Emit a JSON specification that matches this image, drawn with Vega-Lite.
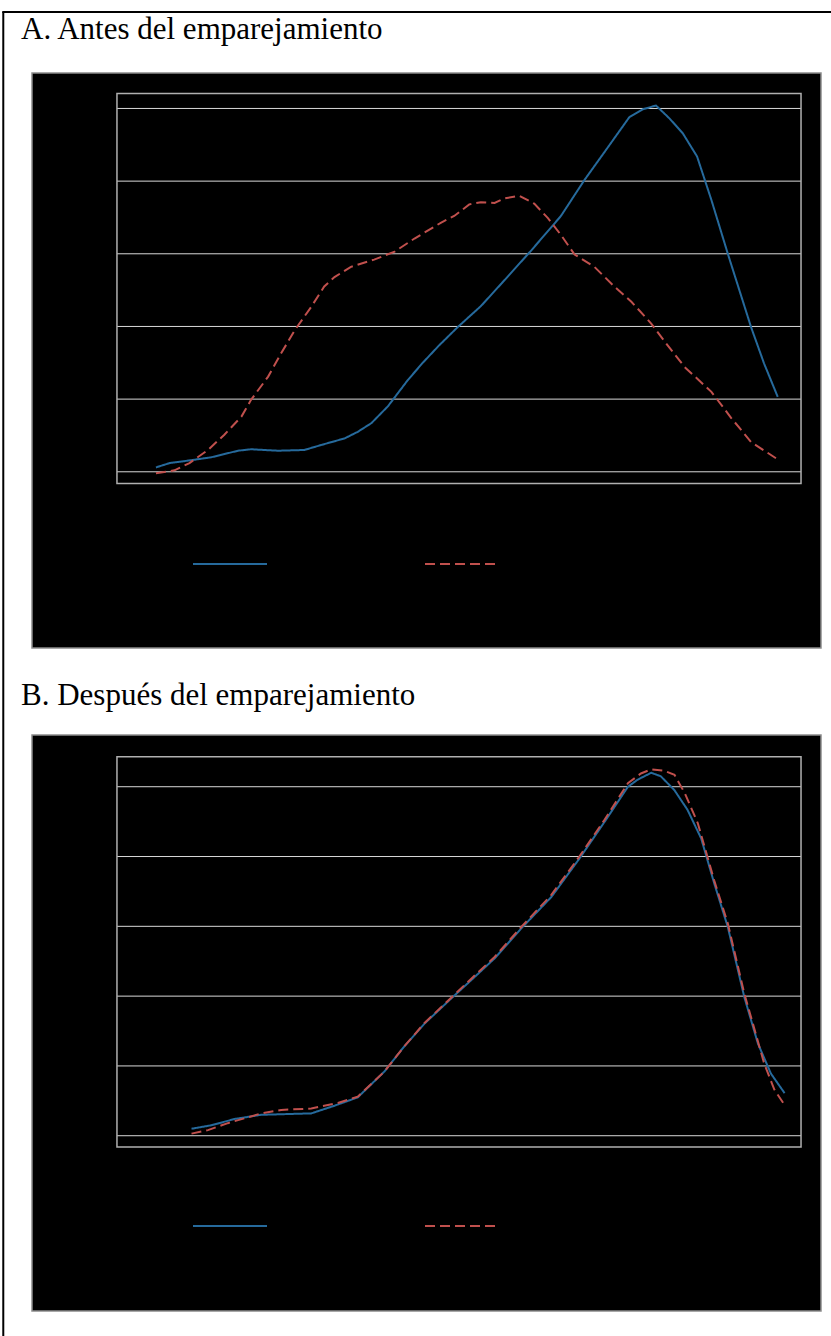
{
  "$schema": "https://vega.github.io/schema/vega-lite/v6.json",
  "background": "white",
  "padding": {"left": 1, "top": 11, "right": 0, "bottom": 0},
  "bounds": "flush",
  "spacing": 0,
  "config": {
    "font": "Liberation Serif",
    "view": {"stroke": null},
    "title": {"font": "Liberation Serif", "fontSize": 31, "fontWeight": "normal", "color": "black", "anchor": "start", "frame": "group", "baseline": "alphabetic", "offset": 27, "dx": -11}
  },
  "datasets": {
    "uno": [{}],
    "grid": [{"v": 0}, {"v": 1}, {"v": 2}, {"v": 3}, {"v": 4}, {"v": 5}],
    "antes": [
      {"g": "Tratados", "x": 0.057, "y": 0.06}, {"g": "Tratados", "x": 0.077, "y": 0.12}, {"g": "Tratados", "x": 0.109, "y": 0.16}, {"g": "Tratados", "x": 0.138, "y": 0.2}, {"g": "Tratados", "x": 0.177, "y": 0.29}, {"g": "Tratados", "x": 0.196, "y": 0.31}, {"g": "Tratados", "x": 0.235, "y": 0.29}, {"g": "Tratados", "x": 0.274, "y": 0.3}, {"g": "Tratados", "x": 0.299, "y": 0.37}, {"g": "Tratados", "x": 0.333, "y": 0.46}, {"g": "Tratados", "x": 0.352, "y": 0.55}, {"g": "Tratados", "x": 0.372, "y": 0.67}, {"g": "Tratados", "x": 0.396, "y": 0.9}, {"g": "Tratados", "x": 0.425, "y": 1.26}, {"g": "Tratados", "x": 0.447, "y": 1.5}, {"g": "Tratados", "x": 0.471, "y": 1.74}, {"g": "Tratados", "x": 0.498, "y": 1.99}, {"g": "Tratados", "x": 0.532, "y": 2.28}, {"g": "Tratados", "x": 0.562, "y": 2.59}, {"g": "Tratados", "x": 0.606, "y": 3.05}, {"g": "Tratados", "x": 0.649, "y": 3.52}, {"g": "Tratados", "x": 0.683, "y": 4.01}, {"g": "Tratados", "x": 0.718, "y": 4.47}, {"g": "Tratados", "x": 0.749, "y": 4.88}, {"g": "Tratados", "x": 0.769, "y": 4.99}, {"g": "Tratados", "x": 0.788, "y": 5.04}, {"g": "Tratados", "x": 0.808, "y": 4.86}, {"g": "Tratados", "x": 0.827, "y": 4.66}, {"g": "Tratados", "x": 0.848, "y": 4.34}, {"g": "Tratados", "x": 0.869, "y": 3.74}, {"g": "Tratados", "x": 0.893, "y": 3.0}, {"g": "Tratados", "x": 0.927, "y": 1.99}, {"g": "Tratados", "x": 0.946, "y": 1.49}, {"g": "Tratados", "x": 0.966, "y": 1.03},
      {"g": "Controles", "x": 0.057, "y": -0.02}, {"g": "Controles", "x": 0.084, "y": 0.02}, {"g": "Controles", "x": 0.106, "y": 0.12}, {"g": "Controles", "x": 0.133, "y": 0.3}, {"g": "Controles", "x": 0.157, "y": 0.51}, {"g": "Controles", "x": 0.182, "y": 0.76}, {"g": "Controles", "x": 0.196, "y": 0.99}, {"g": "Controles", "x": 0.221, "y": 1.31}, {"g": "Controles", "x": 0.24, "y": 1.63}, {"g": "Controles", "x": 0.26, "y": 1.95}, {"g": "Controles", "x": 0.284, "y": 2.27}, {"g": "Controles", "x": 0.303, "y": 2.55}, {"g": "Controles", "x": 0.318, "y": 2.68}, {"g": "Controles", "x": 0.342, "y": 2.82}, {"g": "Controles", "x": 0.376, "y": 2.92}, {"g": "Controles", "x": 0.406, "y": 3.03}, {"g": "Controles", "x": 0.435, "y": 3.21}, {"g": "Controles", "x": 0.474, "y": 3.43}, {"g": "Controles", "x": 0.493, "y": 3.52}, {"g": "Controles", "x": 0.515, "y": 3.68}, {"g": "Controles", "x": 0.532, "y": 3.71}, {"g": "Controles", "x": 0.552, "y": 3.7}, {"g": "Controles", "x": 0.566, "y": 3.76}, {"g": "Controles", "x": 0.588, "y": 3.8}, {"g": "Controles", "x": 0.61, "y": 3.69}, {"g": "Controles", "x": 0.63, "y": 3.49}, {"g": "Controles", "x": 0.649, "y": 3.26}, {"g": "Controles", "x": 0.669, "y": 2.99}, {"g": "Controles", "x": 0.698, "y": 2.82}, {"g": "Controles", "x": 0.727, "y": 2.55}, {"g": "Controles", "x": 0.752, "y": 2.34}, {"g": "Controles", "x": 0.781, "y": 2.04}, {"g": "Controles", "x": 0.805, "y": 1.74}, {"g": "Controles", "x": 0.83, "y": 1.44}, {"g": "Controles", "x": 0.869, "y": 1.1}, {"g": "Controles", "x": 0.898, "y": 0.74}, {"g": "Controles", "x": 0.927, "y": 0.41}, {"g": "Controles", "x": 0.966, "y": 0.17}
    ],
    "despues": [
      {"g": "Tratados", "x": 0.109, "y": 0.1}, {"g": "Tratados", "x": 0.138, "y": 0.15}, {"g": "Tratados", "x": 0.172, "y": 0.24}, {"g": "Tratados", "x": 0.211, "y": 0.3}, {"g": "Tratados", "x": 0.284, "y": 0.32}, {"g": "Tratados", "x": 0.318, "y": 0.43}, {"g": "Tratados", "x": 0.352, "y": 0.55}, {"g": "Tratados", "x": 0.391, "y": 0.92}, {"g": "Tratados", "x": 0.42, "y": 1.28}, {"g": "Tratados", "x": 0.45, "y": 1.61}, {"g": "Tratados", "x": 0.489, "y": 1.97}, {"g": "Tratados", "x": 0.518, "y": 2.23}, {"g": "Tratados", "x": 0.552, "y": 2.54}, {"g": "Tratados", "x": 0.591, "y": 2.97}, {"g": "Tratados", "x": 0.635, "y": 3.42}, {"g": "Tratados", "x": 0.676, "y": 3.97}, {"g": "Tratados", "x": 0.713, "y": 4.5}, {"g": "Tratados", "x": 0.747, "y": 5.0}, {"g": "Tratados", "x": 0.761, "y": 5.1}, {"g": "Tratados", "x": 0.781, "y": 5.2}, {"g": "Tratados", "x": 0.795, "y": 5.15}, {"g": "Tratados", "x": 0.815, "y": 4.95}, {"g": "Tratados", "x": 0.834, "y": 4.67}, {"g": "Tratados", "x": 0.854, "y": 4.26}, {"g": "Tratados", "x": 0.873, "y": 3.62}, {"g": "Tratados", "x": 0.893, "y": 2.99}, {"g": "Tratados", "x": 0.917, "y": 1.99}, {"g": "Tratados", "x": 0.937, "y": 1.32}, {"g": "Tratados", "x": 0.956, "y": 0.89}, {"g": "Tratados", "x": 0.976, "y": 0.61},
      {"g": "Controles", "x": 0.109, "y": 0.03}, {"g": "Controles", "x": 0.133, "y": 0.08}, {"g": "Controles", "x": 0.162, "y": 0.18}, {"g": "Controles", "x": 0.211, "y": 0.32}, {"g": "Controles", "x": 0.24, "y": 0.37}, {"g": "Controles", "x": 0.284, "y": 0.39}, {"g": "Controles", "x": 0.323, "y": 0.47}, {"g": "Controles", "x": 0.352, "y": 0.56}, {"g": "Controles", "x": 0.391, "y": 0.92}, {"g": "Controles", "x": 0.42, "y": 1.28}, {"g": "Controles", "x": 0.45, "y": 1.62}, {"g": "Controles", "x": 0.489, "y": 1.98}, {"g": "Controles", "x": 0.518, "y": 2.25}, {"g": "Controles", "x": 0.552, "y": 2.56}, {"g": "Controles", "x": 0.591, "y": 2.99}, {"g": "Controles", "x": 0.635, "y": 3.45}, {"g": "Controles", "x": 0.676, "y": 4.0}, {"g": "Controles", "x": 0.713, "y": 4.53}, {"g": "Controles", "x": 0.747, "y": 5.05}, {"g": "Controles", "x": 0.766, "y": 5.19}, {"g": "Controles", "x": 0.781, "y": 5.25}, {"g": "Controles", "x": 0.8, "y": 5.23}, {"g": "Controles", "x": 0.815, "y": 5.17}, {"g": "Controles", "x": 0.83, "y": 4.91}, {"g": "Controles", "x": 0.849, "y": 4.48}, {"g": "Controles", "x": 0.859, "y": 4.14}, {"g": "Controles", "x": 0.873, "y": 3.66}, {"g": "Controles", "x": 0.893, "y": 3.04}, {"g": "Controles", "x": 0.917, "y": 2.04}, {"g": "Controles", "x": 0.946, "y": 1.04}, {"g": "Controles", "x": 0.961, "y": 0.66}, {"g": "Controles", "x": 0.976, "y": 0.44}
    ]
  },
  "vconcat": [
    {
      "width": 789,
      "height": 61,
      "data": {"name": "uno"},
      "layer": [
        {
          "mark": {"type": "rule", "color": "black", "strokeWidth": 2},
          "encoding": {
            "x": {"datum": -0.0377, "type": "quantitative", "scale": {"domain": [0, 1], "nice": false, "zero": false}, "axis": null},
            "x2": {"datum": 1.03},
            "y": {"datum": 1, "type": "quantitative", "scale": {"domain": [0, 1], "nice": false, "zero": false}, "axis": null}
          }
        },
        {
          "mark": {"type": "rule", "color": "black", "strokeWidth": 2},
          "encoding": {
            "x": {"datum": -0.0364, "type": "quantitative", "axis": null},
            "y": {"datum": 1, "type": "quantitative", "axis": null},
            "y2": {"datum": -21.0}
          }
        }
      ]
    },
    {
      "bounds": "flush",
      "spacing": 87,
      "resolve": {"scale": {"color": "independent", "strokeDash": "independent", "x": "independent", "y": "independent"}, "legend": {"color": "independent", "strokeDash": "independent"}},
      "vconcat": [
        {
          "width": 789,
          "height": 575,
          "title": {"text": "A. Antes del emparejamiento"},
          "view": {"fill": "black", "stroke": "#8c8c8c", "strokeWidth": 1.5},
          "layer": [
            {
              "data": {"name": "grid"},
              "mark": {"type": "rule", "color": "#d9d9d9", "strokeWidth": 1},
              "encoding": {
                "x": {"datum": 0, "type": "quantitative", "scale": {"domain": [-0.1242, 1.0292], "nice": false, "zero": false}, "axis": null},
                "x2": {"datum": 1},
                "y": {"field": "v", "type": "quantitative", "scale": {"domain": [-2.425, 5.488], "nice": false, "zero": false}, "axis": null}
              }
            },
            {
              "data": {"name": "uno"},
              "mark": {"type": "rect", "fillOpacity": 0, "stroke": "#b0b0b0", "strokeWidth": 1.5},
              "encoding": {
                "x": {"datum": 0, "type": "quantitative", "axis": null},
                "x2": {"datum": 1},
                "y": {"datum": -0.16, "type": "quantitative", "axis": null},
                "y2": {"datum": 5.205}
              }
            },
            {
              "data": {"name": "antes"},
              "mark": {"type": "line", "strokeWidth": 2},
              "encoding": {
                "x": {"field": "x", "type": "quantitative", "axis": null},
                "y": {"field": "y", "type": "quantitative", "axis": null},
                "color": {"field": "g", "type": "nominal", "scale": {"domain": ["Tratados", "Controles"], "range": ["#266a9c", "#c0504d"]},
                  "legend": {"orient": "none", "legendX": 160, "legendY": 453, "direction": "horizontal", "title": null, "symbolType": "stroke", "symbolSize": 5476, "symbolStrokeWidth": 2, "labelColor": "black", "labelFont": "Liberation Serif", "labelFontSize": 14, "labelOffset": 8, "columnPadding": 96, "padding": 0}},
                "strokeDash": {"field": "g", "type": "nominal", "scale": {"domain": ["Tratados", "Controles"], "range": [[1, 0], [10, 5]]},
                  "legend": {"orient": "none", "legendX": 160, "legendY": 453, "direction": "horizontal", "title": null, "symbolType": "stroke", "symbolSize": 5476, "symbolStrokeWidth": 2, "labelColor": "black", "labelFont": "Liberation Serif", "labelFontSize": 14, "labelOffset": 8, "columnPadding": 96, "padding": 0}}
              }
            }
          ]
        },
        {
          "width": 789,
          "height": 576,
          "title": {"text": "B. Después del emparejamiento", "offset": 23},
          "view": {"fill": "black", "stroke": "#8c8c8c", "strokeWidth": 1.5},
          "layer": [
            {
              "data": {"name": "grid"},
              "mark": {"type": "rule", "color": "#d9d9d9", "strokeWidth": 1},
              "encoding": {
                "x": {"datum": 0, "type": "quantitative", "scale": {"domain": [-0.1242, 1.0292], "nice": false, "zero": false}, "axis": null},
                "x2": {"datum": 1},
                "y": {"field": "v", "type": "quantitative", "scale": {"domain": [-2.511, 5.741], "nice": false, "zero": false}, "axis": null}
              }
            },
            {
              "data": {"name": "uno"},
              "mark": {"type": "rect", "fillOpacity": 0, "stroke": "#b0b0b0", "strokeWidth": 1.5},
              "encoding": {
                "x": {"datum": 0, "type": "quantitative", "axis": null},
                "x2": {"datum": 1},
                "y": {"datum": -0.162, "type": "quantitative", "axis": null},
                "y2": {"datum": 5.43}
              }
            },
            {
              "data": {"name": "despues"},
              "mark": {"type": "line", "strokeWidth": 2},
              "encoding": {
                "x": {"field": "x", "type": "quantitative", "axis": null},
                "y": {"field": "y", "type": "quantitative", "axis": null},
                "color": {"field": "g", "type": "nominal", "scale": {"domain": ["Tratados", "Controles"], "range": ["#266a9c", "#c0504d"]},
                  "legend": {"orient": "none", "legendX": 160, "legendY": 453, "direction": "horizontal", "title": null, "symbolType": "stroke", "symbolSize": 5476, "symbolStrokeWidth": 2, "labelColor": "black", "labelFont": "Liberation Serif", "labelFontSize": 14, "labelOffset": 8, "columnPadding": 96, "padding": 0}},
                "strokeDash": {"field": "g", "type": "nominal", "scale": {"domain": ["Tratados", "Controles"], "range": [[1, 0], [10, 5]]},
                  "legend": {"orient": "none", "legendX": 160, "legendY": 453, "direction": "horizontal", "title": null, "symbolType": "stroke", "symbolSize": 5476, "symbolStrokeWidth": 2, "labelColor": "black", "labelFont": "Liberation Serif", "labelFontSize": 14, "labelOffset": 8, "columnPadding": 96, "padding": 0}}
              }
            }
          ]
        }
      ]
    }
  ]
}
